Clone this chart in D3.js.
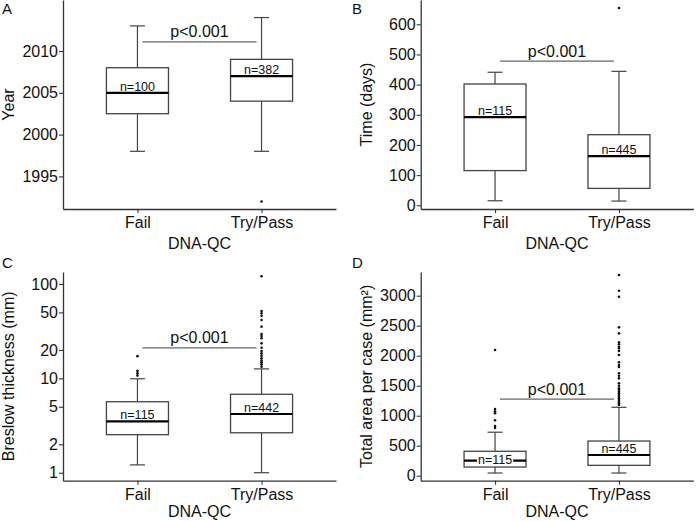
<!DOCTYPE html>
<html><head><meta charset="utf-8">
<script src="https://cdn.jsdelivr.net/npm/d3@7"></script>
<style>
body{margin:0;background:#fff}
text{font-family:"Liberation Sans",Arial,Helvetica,sans-serif}
</style>
</head><body>
<svg id="chart" width="700" height="521"></svg>
<script>
// ---------- data ----------
const categories = ["Fail", "Try/Pass"];
// box stats: [lower whisker, Q1, median, Q3, upper whisker]
const yearFail = [1998, 2002.5, 2005, 2008, 2013];
const yearPass = [1998, 2004, 2007, 2009, 2014];
const yearOutFail = [];
const yearOutPass = [1992];
const yearN = [100, 382];
const yearTicks = [1995, 2000, 2005, 2010];

const timeFail = [15, 115, 292, 402, 441];
const timePass = [14, 56, 163, 234, 444];
const timeOutFail = [];
const timeOutPass = [654];
const timeN = [115, 445];
const timeTicks = [0, 100, 200, 300, 400, 500, 600];

const breslowFail = [1.21, 2.53, 3.5, 5.65, 9.9];
const breslowPass = [1.0, 2.65, 4.19, 6.78, 12.6];
const breslowOutFail = [17.2, 12.0, 11.3, 10.7];
const breslowOutPass = [121, 51.7, 48.9, 46.1, 41.5, 35.3, 29.5, 28.1, 26.6, 23.5, 21.1, 19.5, 18.4, 17.4, 16.3, 15.4, 14.8, 14.1, 13.3];
const breslowN = [115, 442];
const breslowTicks = [1, 2, 5, 10, 20, 50, 100];

const areaFail = [45, 145, 250, 407, 725];
const areaPass = [45, 173, 345, 578, 1140];
const areaOutFail = [2095, 1112, 1073, 1040, 923, 828, 795];
const areaOutPass = [3345, 3083, 2983, 2473, 2373, 2223, 2190, 2150, 2123, 2078, 2012, 1890, 1845, 1812, 1707, 1667, 1623, 1540, 1500, 1457, 1428, 1400, 1373, 1345, 1317, 1290, 1262, 1233, 1207, 1178];
const areaN = [115, 445];
const areaTicks = [0, 500, 1000, 1500, 2000, 2500, 3000];

const pText = "p<0.001";
const xTitle = "DNA-QC";

// ---------- drawing ----------
const svg = d3.select("#chart");
const BOX = "#444", AXIS = "#333", TXT = "#111";

function panel(o) {
  const g = svg.append("g");
  const x = d3.scalePoint().domain(categories).range([o.x0, o.x1]).padding(0.6);
  const step = x.step();
  const y = o.y;

  // y axis
  const ya = g.append("g").attr("transform", `translate(${o.x0},0)`)
    .call(d3.axisLeft(y).tickValues(o.ticks).tickSize(4).tickSizeOuter(0).tickPadding(1).tickFormat(d3.format("d")));
  // x axis
  const xa = g.append("g").attr("transform", `translate(0,${o.yBot})`)
    .call(d3.axisBottom(x).tickSize(4).tickSizeOuter(0).tickPadding(4));
  [ya, xa].forEach(a => {
    a.select(".domain").attr("stroke", AXIS).attr("stroke-width", 1.3);
    a.selectAll(".tick line").attr("stroke", AXIS).attr("stroke-width", 1.1);
    a.selectAll(".tick text").attr("fill", TXT).style("font-size", "16px")
      .style("font-family", '"Liberation Sans",Arial,sans-serif');
  });

  // titles
  g.append("text").attr("x", (o.x0 + o.x1) / 2).attr("y", Math.min(o.yBot + 40, 517))
    .attr("text-anchor", "middle").attr("fill", TXT).style("font-size", "16px").text(xTitle);
  g.append("text").attr("transform", `translate(${o.x0 - 49},${(o.yTop + o.yBot) / 2}) rotate(-90)`)
    .attr("text-anchor", "middle").attr("fill", TXT).style("font-size", "16px").text(o.yTitle);
  g.append("text").attr("x", o.letterX).attr("y", o.letterY)
    .attr("fill", TXT).style("font-size", "15px").text(o.letter);

  // p-value bracket
  const px0 = x(categories[0]) + 0.04 * step, px1 = x(categories[1]) - 0.04 * step;
  g.append("line").attr("x1", px0).attr("x2", px1).attr("y1", y(o.pY)).attr("y2", y(o.pY))
    .attr("stroke", "#666").attr("stroke-width", 1.3);
  g.append("text").attr("x", (px0 + px1) / 2).attr("y", y(o.pY) - 4.5)
    .attr("text-anchor", "middle").attr("fill", TXT).style("font-size", "16px").text(pText);

  const half = 0.25 * step, cap = 7.5;
  o.stats.forEach((s, i) => {
    const cx = x(categories[i]);
    const [lo, q1, med, q3, hi] = s;
    // whiskers
    g.append("line").attr("x1", cx).attr("x2", cx).attr("y1", y(q3)).attr("y2", y(hi)).attr("stroke", BOX).attr("stroke-width", 1.2);
    g.append("line").attr("x1", cx).attr("x2", cx).attr("y1", y(q1)).attr("y2", y(lo)).attr("stroke", BOX).attr("stroke-width", 1.2);
    [lo, hi].forEach(v => g.append("line").attr("x1", cx - cap).attr("x2", cx + cap)
      .attr("y1", y(v)).attr("y2", y(v)).attr("stroke", BOX).attr("stroke-width", 1.2));
    // box
    g.append("rect").attr("x", cx - half).attr("width", 2 * half)
      .attr("y", y(q3)).attr("height", y(q1) - y(q3))
      .attr("fill", "#fff").attr("stroke", BOX).attr("stroke-width", 1.3);
    g.append("line").attr("x1", cx - half).attr("x2", cx + half).attr("y1", y(med)).attr("y2", y(med))
      .attr("stroke", "#000").attr("stroke-width", 2.2);
    // outliers
    g.selectAll(null).data(o.outs[i]).enter().append("circle")
      .attr("cx", cx).attr("cy", d => y(d)).attr("r", 1.3).attr("fill", "#111");
    // n label
    const label = "n=" + o.n[i];
    const room = y(med) - y(q3);
    if (room >= 11) {
      g.append("text").attr("x", cx).attr("y", y(med) - 2).attr("text-anchor", "middle")
        .attr("fill", TXT).style("font-size", "12.5px").text(label);
    } else {
      const t = g.append("text").attr("x", cx).attr("y", y(med) + 3.5).attr("text-anchor", "middle")
        .attr("fill", TXT).style("font-size", "12.5px").text(label);
      const bb = t.node().getBBox();
      g.insert("rect", function () { return t.node(); })
        .attr("x", bb.x - 1).attr("y", y(med) - 1.6).attr("width", bb.width + 2).attr("height", 3.2)
        .attr("fill", "#fff");
    }
  });
}

panel({
  letter: "A", letterX: 2, letterY: 14,
  x0: 63, x1: 336, yTop: 0, yBot: 209,
  y: d3.scaleLinear().domain([1991.1, 2016.1]).range([209, 0]),
  ticks: yearTicks, yTitle: "Year", pY: 2011.1,
  stats: [yearFail, yearPass], outs: [yearOutFail, yearOutPass], n: yearN
});
panel({
  letter: "B", letterX: 352, letterY: 14,
  x0: 420.7, x1: 693.3, yTop: 0, yBot: 209,
  y: d3.scaleLinear().domain([-12.3, 680.5]).range([209, 0]),
  ticks: timeTicks, yTitle: "Time (days)", pY: 478,
  stats: [timeFail, timePass], outs: [timeOutFail, timeOutPass], n: timeN
});
panel({
  letter: "C", letterX: 2, letterY: 268,
  x0: 63, x1: 336, yTop: 272, yBot: 480.7,
  y: d3.scaleLog().domain([0.823, 134]).range([480.7, 272]),
  ticks: breslowTicks, yTitle: "Breslow thickness (mm)", pY: 21,
  stats: [breslowFail, breslowPass], outs: [breslowOutFail, breslowOutPass], n: breslowN
});
panel({
  letter: "D", letterX: 352, letterY: 268,
  x0: 420.7, x1: 693.3, yTop: 272, yBot: 480.7,
  y: d3.scaleLinear().domain([-83, 3395]).range([480.7, 272]),
  ticks: areaTicks, yTitle: "Total area per case (mm²)", pY: 1278,
  stats: [areaFail, areaPass], outs: [areaOutFail, areaOutPass], n: areaN
});
</script>
</body></html>
